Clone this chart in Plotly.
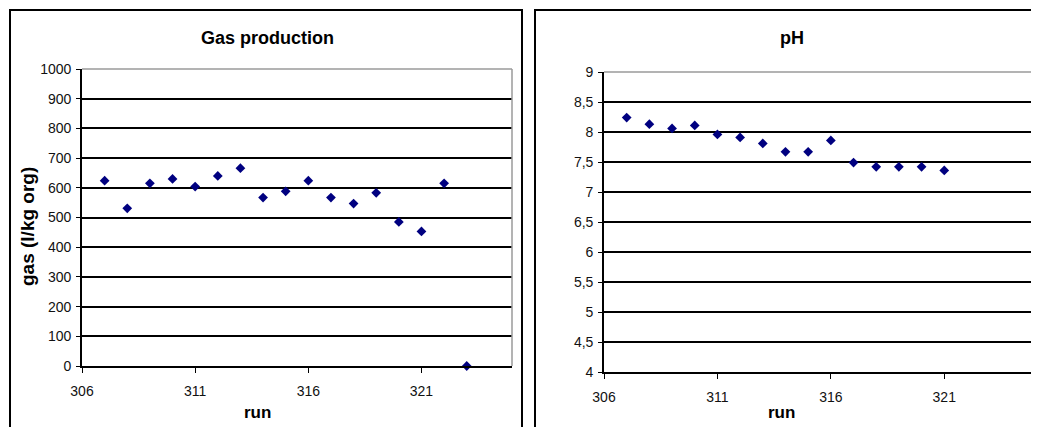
import plotly.graph_objects as go

runs_gas = [307, 308, 309, 310, 311, 312, 313, 314, 315, 316, 317, 318, 319, 320, 321, 322, 323]
gas = [624, 531, 615, 630, 604, 640, 666, 567, 588, 624, 567, 547, 583, 485, 453, 615, 0]

runs_ph = [307, 308, 309, 310, 311, 312, 313, 314, 315, 316, 317, 318, 319, 320, 321]
ph = [8.24, 8.13, 8.06, 8.11, 7.96, 7.91, 7.81, 7.67, 7.67, 7.86, 7.49, 7.42, 7.42, 7.42, 7.36]

gas_ticks = [0, 100, 200, 300, 400, 500, 600, 700, 800, 900, 1000]
ph_ticks = [4, 4.5, 5, 5.5, 6, 6.5, 7, 7.5, 8, 8.5, 9]
ph_ticktext = ["4", "4,5", "5", "5,5", "6", "6,5", "7", "7,5", "8", "8,5", "9"]
x_ticks = [306, 311, 316, 321]

# page body has an 8px default margin; size the figure to fit the window
OFF = 8
W, H = 1039 - OFF, 427 - OFF
FONT = "Liberation Sans, Arial, sans-serif"
MARK = "#000080"

def px(x):
    return (x - OFF) / W

def py(y):
    return 1 - (y - OFF) / H

fig = go.Figure()
fig.add_trace(go.Scatter(x=runs_gas, y=gas, mode="markers", xaxis="x", yaxis="y",
                         marker=dict(symbol="diamond", size=7.5, color=MARK),
                         cliponaxis=False, showlegend=False))
fig.add_trace(go.Scatter(x=runs_ph, y=ph, mode="markers", xaxis="x2", yaxis="y2",
                         marker=dict(symbol="diamond", size=7.5, color=MARK),
                         cliponaxis=False, showlegend=False))

xcommon = dict(range=[306, 325], tickvals=x_ticks, ticks="outside", ticklen=5,
               tickcolor="black", showgrid=False, showline=True, linecolor="black",
               linewidth=1.6, zeroline=False, automargin=False, ticklabelstandoff=6,
               tickfont=dict(family=FONT, size=14, color="#111"))
ycommon = dict(ticks="outside", ticklen=4, tickcolor="black", showgrid=True,
               gridcolor="#000", gridwidth=1.6, showline=True, linecolor="black",
               linewidth=1.6, zeroline=False, automargin=False,
               tickfont=dict(family=FONT, size=14, color="#111"), ticklabelstandoff=2)

fig.update_layout(
    width=W, height=H, margin=dict(l=0, r=0, t=0, b=0, autoexpand=False),
    paper_bgcolor="white", plot_bgcolor="white",
    xaxis=dict(domain=[px(82), px(512)], anchor="y", **xcommon),
    yaxis=dict(domain=[py(366), py(69)], anchor="x", range=[0, 1000], tickvals=gas_ticks, **ycommon),
    xaxis2=dict(domain=[px(604), px(1035)], anchor="y2", **xcommon),
    yaxis2=dict(domain=[py(372), py(72)], anchor="x2", range=[4, 9], tickvals=ph_ticks,
                ticktext=ph_ticktext, **ycommon),
)

shapes = []
# outer frames
shapes.append(dict(type="rect", xref="paper", yref="paper", x0=px(10), x1=px(522), y0=-0.1, y1=py(10),
                   line=dict(color="black", width=2)))
shapes.append(dict(type="rect", xref="paper", yref="paper", x0=px(535), x1=px(1037), y0=-0.1, y1=py(10),
                   line=dict(color="black", width=2)))
# gray plot area border (top and right)
for xr, yr in (("x", "y"), ("x2", "y2")):
    shapes.append(dict(type="line", xref=xr + " domain", yref=yr + " domain", x0=0, x1=1, y0=1, y1=1,
                       line=dict(color="#9a9a9a", width=1.5)))
    shapes.append(dict(type="line", xref=xr + " domain", yref=yr + " domain", x0=1, x1=1, y0=0, y1=1,
                       line=dict(color="#9a9a9a", width=1.5)))
fig.update_layout(shapes=shapes)

ann = []
ann.append(dict(text="<b>Gas production</b>", x=px(267), y=py(38), xref="paper", yref="paper",
                showarrow=False, xanchor="center", yanchor="middle", font=dict(family=FONT, size=18, color="black")))
ann.append(dict(text="<b>pH</b>", x=px(792), y=py(38), xref="paper", yref="paper",
                showarrow=False, xanchor="center", yanchor="middle", font=dict(family=FONT, size=18, color="black")))
ann.append(dict(text="<b>run</b>", x=px(257), y=py(412), xref="paper", yref="paper",
                showarrow=False, xanchor="center", yanchor="middle", font=dict(family=FONT, size=17, color="black")))
ann.append(dict(text="<b>run</b>", x=px(781), y=py(412), xref="paper", yref="paper",
                showarrow=False, xanchor="center", yanchor="middle", font=dict(family=FONT, size=17, color="black")))
ann.append(dict(text="<b>gas (l/kg org)</b>", x=px(27), y=py(227), xref="paper", yref="paper",
                showarrow=False, xanchor="center", yanchor="middle", textangle=-90,
                font=dict(family=FONT, size=19, color="black")))
fig.update_layout(annotations=ann)

fig.write_html("out.html")
